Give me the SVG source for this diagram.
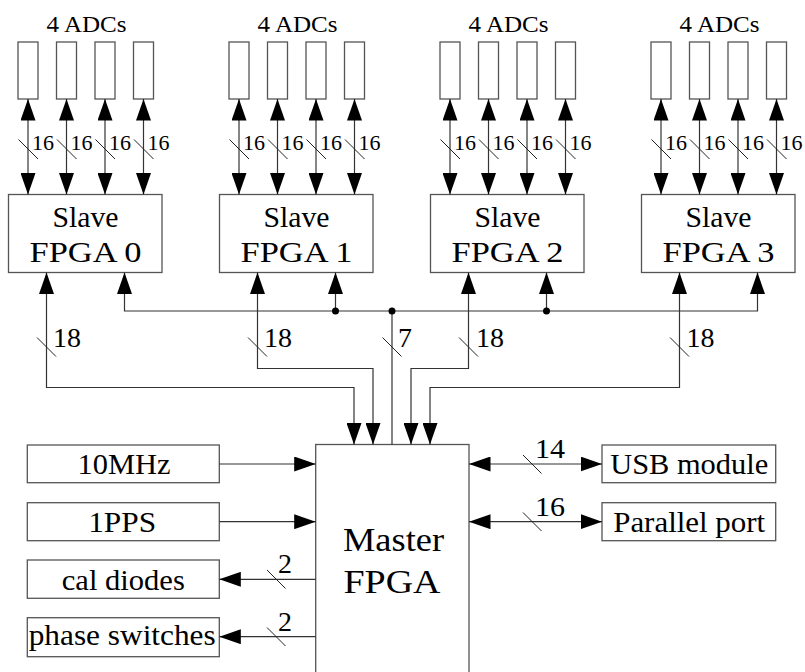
<svg xmlns="http://www.w3.org/2000/svg" width="805" height="672" viewBox="0 0 805 672" font-family="'Liberation Serif', 'DejaVu Serif', 'Noto Serif', serif">
<style>
text{font-family:'Liberation Serif','DejaVu Serif','Noto Serif',serif;fill:#000}
.m{text-anchor:middle}
.box{fill:#fff;stroke:#555;stroke-width:1.3}
.ln{fill:none;stroke:#333;stroke-width:1.2}
.sl{stroke:#222;stroke-width:1}
.lab{font-size:30px}
.t16{font-size:22px}
.t18{font-size:28px}
.hd{font-size:24px}
.big{font-size:34px}
.ah{marker-end:url(#ah)}
.ah2{marker-start:url(#ah);marker-end:url(#ah)}
</style>
<defs>
<marker id="ah" markerUnits="userSpaceOnUse" markerWidth="22" markerHeight="15" viewBox="0 0 22 15" refX="21.5" refY="7.5" orient="auto-start-reverse"><path d="M0,0L21.5,7.5L0,15z" fill="#000"/></marker>
</defs>

<g id="adcs0">
<text class="hd m" x="86.5" y="32" textLength="80" lengthAdjust="spacingAndGlyphs">4 ADCs</text>
<rect class="box" x="18" y="42" width="20" height="57"/>
<rect class="box" x="56.5" y="42" width="20" height="57"/>
<rect class="box" x="95" y="42" width="20" height="57"/>
<rect class="box" x="133.5" y="42" width="20" height="57"/>
</g>
<g id="adcs1">
<text class="hd m" x="297.5" y="32" textLength="80" lengthAdjust="spacingAndGlyphs">4 ADCs</text>
<rect class="box" x="229" y="42" width="20" height="57"/>
<rect class="box" x="267.5" y="42" width="20" height="57"/>
<rect class="box" x="306" y="42" width="20" height="57"/>
<rect class="box" x="344.5" y="42" width="20" height="57"/>
</g>
<g id="adcs2">
<text class="hd m" x="508.5" y="32" textLength="80" lengthAdjust="spacingAndGlyphs">4 ADCs</text>
<rect class="box" x="440" y="42" width="20" height="57"/>
<rect class="box" x="478.5" y="42" width="20" height="57"/>
<rect class="box" x="517" y="42" width="20" height="57"/>
<rect class="box" x="555.5" y="42" width="20" height="57"/>
</g>
<g id="adcs3">
<text class="hd m" x="719.5" y="32" textLength="80" lengthAdjust="spacingAndGlyphs">4 ADCs</text>
<rect class="box" x="651" y="42" width="20" height="57"/>
<rect class="box" x="689.5" y="42" width="20" height="57"/>
<rect class="box" x="728" y="42" width="20" height="57"/>
<rect class="box" x="766.5" y="42" width="20" height="57"/>
</g>

<g id="slave0">
<rect class="box" x="8.5" y="194.5" width="153.5" height="78"/>
<text class="lab m" x="85.5" y="227" textLength="66" lengthAdjust="spacingAndGlyphs">Slave</text>
<text class="lab m" x="85.5" y="262" textLength="112" lengthAdjust="spacingAndGlyphs">FPGA 0</text>
</g>
<g id="slave1">
<rect class="box" x="219.5" y="194.5" width="153.5" height="78"/>
<text class="lab m" x="296.5" y="227" textLength="66" lengthAdjust="spacingAndGlyphs">Slave</text>
<text class="lab m" x="296.5" y="262" textLength="112" lengthAdjust="spacingAndGlyphs">FPGA 1</text>
</g>
<g id="slave2">
<rect class="box" x="430.5" y="194.5" width="153.5" height="78"/>
<text class="lab m" x="507.5" y="227" textLength="66" lengthAdjust="spacingAndGlyphs">Slave</text>
<text class="lab m" x="507.5" y="262" textLength="112" lengthAdjust="spacingAndGlyphs">FPGA 2</text>
</g>
<g id="slave3">
<rect class="box" x="641.5" y="194.5" width="153.5" height="78"/>
<text class="lab m" x="718.5" y="227" textLength="66" lengthAdjust="spacingAndGlyphs">Slave</text>
<text class="lab m" x="718.5" y="262" textLength="112" lengthAdjust="spacingAndGlyphs">FPGA 3</text>
</g>

<g id="master">
<rect class="box" x="315.7" y="444.5" width="153.3" height="240"/>
<text class="big m" x="393.5" y="550.7" textLength="101" lengthAdjust="spacingAndGlyphs">Master</text>
<text class="big m" x="392" y="592.7" textLength="97" lengthAdjust="spacingAndGlyphs">FPGA</text>
</g>
<g id="clk10">
<rect class="box" x="27.3" y="445" width="192" height="37.7"/>
<text class="lab m" x="124" y="474.3" textLength="93" lengthAdjust="spacingAndGlyphs">10MHz</text>
</g>
<g id="pps">
<rect class="box" x="27.3" y="502.7" width="192" height="38"/>
<text class="lab m" x="122.2" y="531.7" textLength="68" lengthAdjust="spacingAndGlyphs">1PPS</text>
</g>
<g id="cal">
<rect class="box" x="27.3" y="560" width="192" height="38.3"/>
<text class="lab m" x="123.3" y="590" textLength="123" lengthAdjust="spacingAndGlyphs">cal diodes</text>
</g>
<g id="phase">
<rect class="box" x="27.3" y="617.7" width="192" height="39"/>
<text class="lab m" x="122.2" y="645" textLength="187" lengthAdjust="spacingAndGlyphs">phase switches</text>
</g>
<g id="usb">
<rect class="box" x="602" y="445" width="173.7" height="37.7"/>
<text class="lab m" x="689.2" y="474.3" textLength="158" lengthAdjust="spacingAndGlyphs">USB module</text>
</g>
<g id="par">
<rect class="box" x="602" y="502.7" width="173.7" height="38"/>
<text class="lab m" x="689.2" y="531.7" textLength="152" lengthAdjust="spacingAndGlyphs">Parallel port</text>
</g>

<g id="connectors">
<path class="ln ah2" d="M28,99V194.5"/><path class="ln ah2" d="M66.5,99V194.5"/><path class="ln ah2" d="M105,99V194.5"/><path class="ln ah2" d="M143.5,99V194.5"/>
<path class="ln ah2" d="M239,99V194.5"/><path class="ln ah2" d="M277.5,99V194.5"/><path class="ln ah2" d="M316,99V194.5"/><path class="ln ah2" d="M354.5,99V194.5"/>
<path class="ln ah2" d="M450,99V194.5"/><path class="ln ah2" d="M488.5,99V194.5"/><path class="ln ah2" d="M527,99V194.5"/><path class="ln ah2" d="M565.5,99V194.5"/>
<path class="ln ah2" d="M661,99V194.5"/><path class="ln ah2" d="M699.5,99V194.5"/><path class="ln ah2" d="M738,99V194.5"/><path class="ln ah2" d="M776.5,99V194.5"/>
<path class="sl" d="M18.5,139.5l19.5,19.5M57,139.5l19.5,19.5M95.5,139.5l19.5,19.5M134,139.5l19.5,19.5M229.5,139.5l19.5,19.5M268,139.5l19.5,19.5M306.5,139.5l19.5,19.5M345,139.5l19.5,19.5M440.5,139.5l19.5,19.5M479,139.5l19.5,19.5M517.5,139.5l19.5,19.5M556,139.5l19.5,19.5M651.5,139.5l19.5,19.5M690,139.5l19.5,19.5M728.5,139.5l19.5,19.5M767,139.5l19.5,19.5"/>
<g class="t16">
<text x="32" y="150">16</text><text x="70.5" y="150">16</text><text x="109" y="150">16</text><text x="147.5" y="150">16</text>
<text x="243" y="150">16</text><text x="281.5" y="150">16</text><text x="320" y="150">16</text><text x="358.5" y="150">16</text>
<text x="454" y="150">16</text><text x="492.5" y="150">16</text><text x="531" y="150">16</text><text x="569.5" y="150">16</text>
<text x="665" y="150">16</text><text x="703.5" y="150">16</text><text x="742" y="150">16</text><text x="780.5" y="150">16</text>
</g>
<path class="ln ah2" d="M46.5,272.5V387.5H354V444.5"/>
<path class="ln ah2" d="M257.5,272.5V368.5H373V444.5"/>
<path class="ln ah2" d="M468.5,272.5V368.5H411V444.5"/>
<path class="ln ah2" d="M679.5,272.5V387.5H430V444.5"/>
<path class="ln ah2" d="M124.5,272.5V311H757.5V272.5"/>
<path class="ln ah" d="M335.5,311V272.5"/>
<path class="ln ah" d="M546.5,311V272.5"/>
<path class="ln" d="M392,311V444.5"/>
<circle cx="335.5" cy="311" r="3.5"/><circle cx="392" cy="311" r="3.5"/><circle cx="546.5" cy="311" r="3.5"/>
<path class="sl" d="M37,337.5l19,19M248,337.5l19,19M459,337.5l19,19M670,337.5l19,19M382.5,337.5l19,19"/>
<g class="t18">
<text x="53" y="346.5">18</text><text x="264" y="346.5">18</text><text x="476" y="346.5">18</text><text x="686.5" y="346.5">18</text><text x="398" y="346.5">7</text>
</g>
<path class="ln ah" d="M219.3,464H315.7"/>
<path class="ln ah" d="M219.3,521.7H315.7"/>
<path class="ln ah" d="M315.7,579.3H219.3"/>
<path class="ln ah" d="M315.7,636.7H219.3"/>
<path class="ln ah2" d="M469,464H602"/>
<path class="ln ah2" d="M469,521.7H602"/>
<path class="sl" d="M523,455l18.5,18.5M523,512.5l18.5,18.5M267,570l18.5,18.5M267,627.5l18.5,18.5"/>
<g class="t18">
<text x="535" y="458.3" textLength="30" lengthAdjust="spacingAndGlyphs">14</text>
<text x="535" y="516" textLength="30" lengthAdjust="spacingAndGlyphs">16</text>
<text x="278" y="573.3">2</text>
<text x="278" y="630.5">2</text>
</g>
</g>
</svg>
